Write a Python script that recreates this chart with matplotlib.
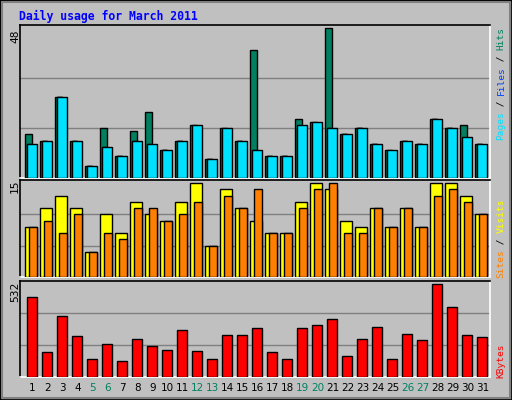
import matplotlib
matplotlib.use("Agg")
import matplotlib.pyplot as plt
from matplotlib.patches import Rectangle
import numpy as np

days = list(range(1, 32))
weekend = [5, 6, 12, 13, 19, 20, 26, 27]
hits  = [14,12,26,12,4,16,7,15,21,9,12,17,6,16,12,41,7,7,19,18,48,14,16,11,9,12,11,19,16,17,11]
files = [11,12,26,12,4,10,7,12,11,9,12,9,6,15,12,9,7,7,16,17,16,14,16,11,8,12,11,19,16,12,11]
pages = [11,12,26,12,4,10,7,12,11,9,12,17,6,16,12,9,7,7,17,18,16,14,16,11,9,12,11,19,16,13,11]
sites  = [8,11,13,11,4,10,7,12,10,9,12,15,5,14,11,9,7,7,12,15,14,9,8,11,8,11,8,15,15,13,10]
visits = [8,9,7,10,4,7,6,11,11,9,10,12,5,13,11,14,7,7,11,14,15,7,7,11,8,11,8,13,14,12,10]
kbytes = [462,142,351,235,101,188,89,217,177,153,270,148,101,241,241,282,142,101,282,299,334,118,217,287,101,247,212,532,404,241,229]

W, H = 512, 400
SLOT = 15.0
X0 = 25.0
fig = plt.figure(figsize=(W/100, H/100), dpi=100)
fig.patch.set_facecolor('#c0c0c0')
fig.add_artist(Rectangle((0, 0), 1, 1, transform=fig.transFigure, fill=False, ec='black', lw=2))
fig.add_artist(Rectangle((2/W, 2/H), 1-4/W, 1-4/H, transform=fig.transFigure, fill=False, ec='#808080', lw=1.5))

def mkax(x0, y0, x1, y1):
    ax = fig.add_axes([x0/W, 1-y1/H, (x1-x0)/W, (y1-y0)/H])
    ax.set_facecolor('#c0c0c0')
    ax.set_xlim((x0-X0)/SLOT, (x1-X0)/SLOT)
    ax.set_xticks([]); ax.set_yticks([])
    for s in ['top', 'left']:
        ax.spines[s].set_color('black')
    for s in ['bottom', 'right']:
        ax.spines[s].set_color('white')
    for s in ax.spines.values():
        s.set_linewidth(1.2)
    return ax

x = np.arange(31)

def bars(ax, vals, a, b, color):
    ax.bar(x + a, vals, width=b - a, align='edge', color=color, edgecolor='black', linewidth=1, zorder=3)

def grid(ax, ymax):
    for f in (1/3, 2/3):
        ax.axhline(ymax*f, color='#808080', lw=1, zorder=1)

ax1 = mkax(20, 25, 490, 178)
ax1.set_ylim(0, 49)
grid(ax1, 48)
bars(ax1, hits, 0.02, 0.48, '#008060')
bars(ax1, files, 0.13, 0.45, '#0040ff')
bars(ax1, pages, 0.16, 0.78, '#00e0ff')

ax2 = mkax(20, 180, 490, 277)
ax2.set_ylim(0, 15.5)
grid(ax2, 15)
bars(ax2, sites, 0.02, 0.78, '#ffff00')
bars(ax2, visits, 0.28, 0.78, '#ff8000')

ax3 = mkax(20, 281, 490, 377)
ax3.set_ylim(0, 551)
grid(ax3, 551)
bars(ax3, kbytes, 0.1, 0.78, '#ff0000')

mono = 'DejaVu Sans Mono'
fig.text(19/W, 1-16/H, 'Daily usage for March 2011', color='#0000ff', family=mono,
         fontsize=8.3, fontweight='bold', va='center', ha='left')
for lab, y in (('48', 36), ('15', 186), ('532', 292)):
    fig.text(15/W, 1-y/H, lab, rotation=90, ha='center', va='center', fontsize=8, family=mono)

for d in days:
    c = '#008060' if d in weekend else 'black'
    fig.text((X0 + (d-1+0.5)*SLOT)/W, 1-388/H, str(d), ha='center', va='center',
             fontsize=7.5, color=c)

def vlabel(parts, ybottom):
    y = ybottom
    for txt, col in parts:
        fig.text(501/W, 1-y/H, txt, rotation=90, ha='center', va='bottom', color=col,
                 fontsize=6.8, family=mono)
        y -= len(txt)*5.65
vlabel([('Pages', '#00e0ff'), (' / ', 'black'), ('Files', '#0040ff'), (' / ', 'black'), ('Hits', '#008060')], 140)
vlabel([('Sites', '#ff8000'), (' / ', 'black'), ('Visits', '#ffff00')], 278)
vlabel([('KBytes', '#ff0000')], 378)

fig.savefig('out.png', dpi=100, facecolor=fig.get_facecolor())
